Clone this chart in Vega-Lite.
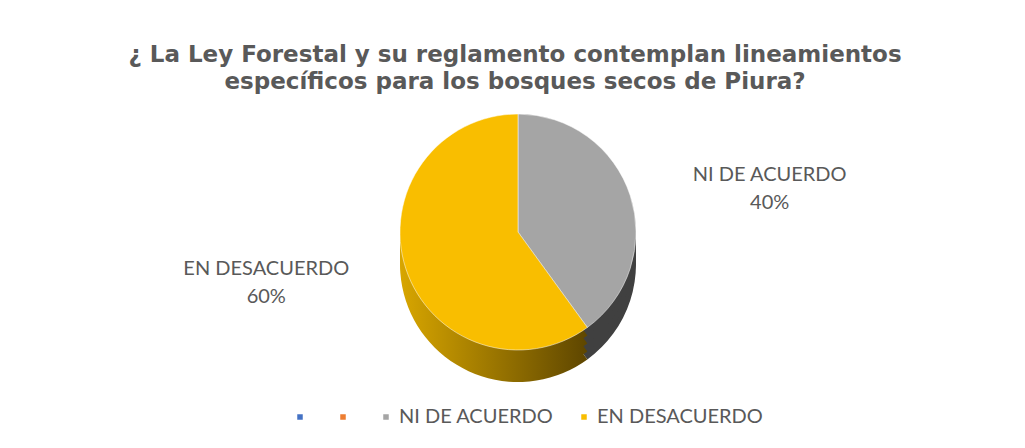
{
  "$schema": "https://vega.github.io/schema/vega-lite/v6.json",
  "autosize": {"type": "fit", "contains": "padding"},
  "width": 1025,
  "height": 448,
  "padding": {"left": 8, "top": 13, "right": -3, "bottom": -3},
  "background": "white",
  "title": {
    "text": ["¿ La Ley Forestal y su reglamento contemplan lineamientos", "específicos para los bosques secos de Piura?"],
    "font": "DejaVu Sans",
    "fontSize": 23,
    "fontWeight": "bold",
    "color": "#595959",
    "lineHeight": 27,
    "offset": -81,
    "anchor": "middle",
    "dx": -3
  },
  "config": {"view": {"stroke": "#d9d9d9", "strokeWidth": 1.5}},
  "data": {
    "values": [
      {"cat": "1", "value": 0},
      {"cat": "2", "value": 0},
      {"cat": "NI DE ACUERDO", "value": 40},
      {"cat": "EN DESACUERDO", "value": 60}
    ]
  },
  "encoding": {
    "theta": {"field": "value", "type": "quantitative", "stack": true},
    "order": {"field": "value", "sort": "ascending"}
  },
  "layer": [
    {
      "mark": {"type": "arc", "outerRadius": 118, "yOffset": 32},
      "encoding": {"fill": {"condition": {"test": "datum.cat === 'EN DESACUERDO'", "value": {"gradient": "linear", "x1": 0, "y1": 0, "x2": 1, "y2": 0, "stops": [{"offset": 0, "color": "#D8A600"}, {"offset": 1, "color": "#5E4600"}]}}, "value": "#404040"}}
    },
    {
      "mark": {"type": "arc", "outerRadius": 118, "yOffset": 24},
      "encoding": {"fill": {"condition": {"test": "datum.cat === 'EN DESACUERDO'", "value": {"gradient": "linear", "x1": 0, "y1": 0, "x2": 1, "y2": 0, "stops": [{"offset": 0, "color": "#D8A600"}, {"offset": 1, "color": "#5E4600"}]}}, "value": "#404040"}}
    },
    {
      "mark": {"type": "arc", "outerRadius": 118, "yOffset": 16},
      "encoding": {"fill": {"condition": {"test": "datum.cat === 'EN DESACUERDO'", "value": {"gradient": "linear", "x1": 0, "y1": 0, "x2": 1, "y2": 0, "stops": [{"offset": 0, "color": "#D8A600"}, {"offset": 1, "color": "#5E4600"}]}}, "value": "#404040"}}
    },
    {
      "mark": {"type": "arc", "outerRadius": 118, "yOffset": 8},
      "encoding": {"fill": {"condition": {"test": "datum.cat === 'EN DESACUERDO'", "value": {"gradient": "linear", "x1": 0, "y1": 0, "x2": 1, "y2": 0, "stops": [{"offset": 0, "color": "#D8A600"}, {"offset": 1, "color": "#5E4600"}]}}, "value": "#404040"}}
    },
    {
      "mark": {"type": "arc", "outerRadius": 118, "stroke": "#ffffff", "strokeWidth": 0.5},
      "encoding": {
        "color": {
          "field": "cat",
          "type": "nominal",
          "scale": {"domain": ["1", "2", "NI DE ACUERDO", "EN DESACUERDO"], "range": ["#4472C4", "#ED7D31", "#A5A5A5", "#F9BE00"]},
          "legend": {
            "orient": "none",
            "legendX": 282,
            "legendY": 394,
            "direction": "horizontal",
            "title": null,
            "symbolType": "square",
            "symbolSize": 49,
            "labelFont": "Lato",
            "labelFontSize": 20,
            "labelColor": "#595959",
            "labelOffset": 3,
            "labelLimit": 400,
            "columnPadding": 20,
            "labelExpr": "datum.label === '1' || datum.label === '2' ? '' : datum.label"
          }
        }
      }
    },
    {
      "transform": [
        {"filter": "datum.value > 0"},
        {"calculate": "[datum.cat, datum.value + '%']", "as": "label"}
      ],
      "mark": {"type": "text", "radius": 256, "thetaOffset": 0.131, "dy": -10, "font": "Lato", "fontSize": 20, "color": "#595959", "lineHeight": 28},
      "encoding": {"text": {"field": "label"}}
    }
  ]
}
